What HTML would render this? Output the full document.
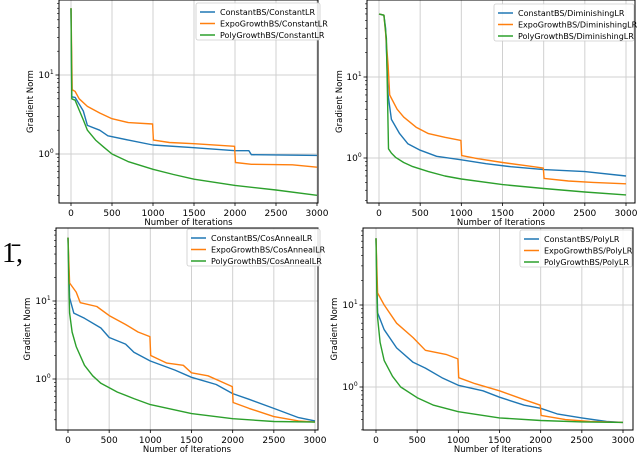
<!DOCTYPE html>
<html><head><meta charset="utf-8"><style>
body{margin:0;background:#fff;}
svg{display:block;font-family:"DejaVu Sans","Liberation Sans",sans-serif;}
</style></head><body>
<svg id="s" width="640" height="453" viewBox="0 0 640 453">
<text x="2" y="262" font-family="Liberation Serif,serif" font-size="28" fill="#000">1̄,</text>
</svg>
<script>
const xTicks=[0,500,1000,1500,2000,2500,3000];
const labels=[["ConstantBS/ConstantLR","ExpoGrowthBS/ConstantLR","PolyGrowthBS/ConstantLR"],
["ConstantBS/DiminishingLR","ExpoGrowthBS/DiminishingLR","PolyGrowthBS/DiminishingLR"],
["ConstantBS/CosAnnealLR","ExpoGrowthBS/CosAnnealLR","PolyGrowthBS/CosAnnealLR"],
["ConstantBS/PolyLR","ExpoGrowthBS/PolyLR","PolyGrowthBS/PolyLR"]];
// panel 1
const p1cX=[0,10,50,150,200,350,450,700,1000,1500,2000,2170,2200,3000];
const p1cY=[70,5.3,5.2,3.5,2.3,2.0,1.7,1.5,1.3,1.2,1.1,1.1,0.98,0.96];
const p1eX=[0,15,50,100,200,350,500,700,995,1005,1200,1500,1995,2005,2200,2700,3000];
const p1eY=[70,6.5,6.2,5,4,3.3,2.8,2.5,2.4,1.5,1.4,1.35,1.25,0.78,0.74,0.73,0.68];
const p1pX=[0,10,50,100,150,200,300,400,500,700,1000,1250,1500,2000,2500,3000];
const p1pY=[70,5,4.8,3.6,2.7,2.0,1.5,1.22,1.0,0.8,0.64,0.55,0.48,0.40,0.35,0.30];
// panel 2
const p2cX=[0,60,80,110,150,250,350,500,700,1000,1300,1600,2000,2500,3000];
const p2cY=[60,58,40,6,3,2,1.5,1.25,1.05,0.95,0.85,0.78,0.72,0.68,0.6];
const p2eX=[0,60,80,110,130,220,300,450,600,800,995,1005,1200,1500,1800,1995,2005,2300,2600,3000];
const p2eY=[60,58,35,14,6,4,3.2,2.4,2.0,1.8,1.65,1.07,0.98,0.88,0.8,0.75,0.56,0.52,0.5,0.48];
const p2pX=[0,60,90,105,115,150,200,300,400,600,800,1000,1500,2000,2500,3000];
const p2pY=[60,58,30,5,1.3,1.15,1.02,0.88,0.79,0.68,0.6,0.55,0.47,0.42,0.38,0.35];
// panel 3
const p3cX=[0,20,70,200,400,500,700,800,1000,1300,1500,1800,2000,2200,2500,2800,3000];
const p3cY=[65,11,7,6,4.5,3.4,2.8,2.2,1.7,1.3,1.05,0.85,0.65,0.55,0.42,0.32,0.29];
const p3eX=[0,20,100,150,350,500,700,850,995,1005,1200,1400,1500,1700,1995,2005,2200,2500,2800,3000];
const p3eY=[65,17,13,9.5,8.5,6.5,5,4,3.5,2,1.6,1.5,1.2,1.1,0.8,0.5,0.42,0.33,0.29,0.28];
const p3pX=[0,10,20,50,100,200,300,400,600,800,1000,1500,2000,2500,3000];
const p3pY=[65,18,7,4,2.6,1.5,1.1,0.88,0.68,0.56,0.47,0.36,0.31,0.285,0.28];
// panel 4
const p4cX=[0,20,100,250,450,600,800,1000,1300,1500,1800,2000,2200,2500,2800,3000];
const p4cY=[65,8,5,3,2,1.7,1.3,1.05,0.9,0.75,0.6,0.55,0.47,0.42,0.38,0.37];
const p4eX=[0,20,100,250,450,600,850,995,1005,1200,1500,1800,1995,2005,2300,2600,3000];
const p4eY=[65,14,10,6,4,2.8,2.5,2.2,1.3,1.1,0.9,0.7,0.6,0.45,0.4,0.38,0.37];
const p4pX=[0,10,20,50,100,200,300,500,700,1000,1500,2000,2500,3000];
const p4pY=[65,15,7,3.5,2.1,1.35,1.0,0.74,0.6,0.5,0.42,0.39,0.375,0.37];

const series=[[[p1cX,p1cY],[p1eX,p1eY],[p1pX,p1pY]],[[p2cX,p2cY],[p2eX,p2eY],[p2pX,p2pY]],
[[p3cX,p3cY],[p3eX,p3eY],[p3pX,p3pY]],[[p4cX,p4cY],[p4eX,p4eY],[p4pX,p4pY]]];
const panels=[
{L:59,R:318,T:0,B:203,x0:71,x1:317,y1:75,y0:154,lx:196,ly:3,lw:124,yl:33},
{L:367,R:635,T:0,B:203,x0:379,x1:626,y1:77,y0:158,lx:494,ly:4,lw:140,yl:342},
{L:56,R:318,T:228,B:430,x0:68,x1:315,y1:301,y0:379,lx:187,ly:229,lw:133,yl:30},
{L:363,R:633,T:228,B:430,x0:376,x1:623,y1:305,y0:387,lx:520,ly:230,lw:112,yl:337}];
const colors=["#1f77b4","#ff7f0e","#2ca02c"];
const svg=document.getElementById('s');
const NS="http://www.w3.org/2000/svg";
function mk(tag,a,parent){const e=document.createElementNS(NS,tag);for(const k in a)e.setAttribute(k,a[k]);(parent||svg).appendChild(e);return e;}
panels.forEach((p,i)=>{
  const g=mk('g',{});
  
  
  const sx=v=>p.x0+(p.x1-p.x0)*v/3000;
  const dec=p.y0-p.y1;
  const sy=v=>p.y0-dec*Math.log10(v);
  xTicks.forEach(t=>{
    const gl=mk('line',{x1:sx(t),x2:sx(t),y1:p.T,y2:p.B,stroke:"#d0d0d0","stroke-width":1},g);
    
    
    const tk=mk('line',{x1:sx(t),x2:sx(t),y1:p.B,y2:p.B+3,stroke:"#000","stroke-width":0.8},g);
    
    
    const tl=mk('text',{x:sx(t),y:p.B+13,"font-size":9,"text-anchor":"middle",fill:"#000"},g);
    tl.textContent=t;
    
    
  });
  [0,1].forEach(d=>{
    const y=sy(Math.pow(10,d));
    const gl=mk('line',{x1:p.L,x2:p.R,y1:y,y2:y,stroke:"#d0d0d0","stroke-width":1},g);
    
    
    mk('line',{x1:p.L-3.5,x2:p.L,y1:y,y2:y,stroke:"#000","stroke-width":0.8},g);
    const tl=mk('text',{x:p.L-13,y:y+3,"font-size":9,"text-anchor":"middle",fill:"#000"},g);
    tl.innerHTML='10<tspan dy="-4" font-size="6">'+d+'</tspan>';
    
    
  });
  for(let d=-1;d<2;d++)for(let m=2;m<10;m++){
    const y=sy(m*Math.pow(10,d));
    if(y>p.T&&y<p.B)mk('line',{x1:p.L-2,x2:p.L,y1:y,y2:y,stroke:"#000","stroke-width":0.6},g);
  }
  series[i].forEach((s,k)=>{
    const pts=s[0].map((x,j)=>sx(x).toFixed(1)+","+sy(s[1][j]).toFixed(1)).join(" ");
    const pl=mk('polyline',{points:pts,fill:"none",stroke:colors[k],"stroke-width":1.4,"stroke-linejoin":"round"},g);
    
    
  });
  const fr=mk('rect',{x:p.L,y:p.T,width:p.R-p.L,height:p.B-p.T,fill:"none",stroke:"#000","stroke-width":1},g);
  
  
  const xl=mk('text',{x:(p.L+p.R)/2,y:p.B+22,"font-size":8.5,"text-anchor":"middle"},g);
  xl.textContent="Number of Iterations";
  
  
  const cy=(p.T+p.B)/2;
  const yl=mk('text',{x:p.yl,y:cy,"font-size":8.5,"text-anchor":"middle",transform:`rotate(-90 ${p.yl} ${cy})`},g);
  yl.textContent="Gradient Norm";
  
  
  const lg=mk('g',{},g);
  
  
  mk('rect',{x:p.lx,y:p.ly,width:p.lw,height:37,fill:"#fff","fill-opacity":0.85,stroke:"#ccc","stroke-width":0.8,rx:2},lg);
  labels[i].forEach((t,k)=>{
    const yy=p.ly+9+k*11.5;
    mk('line',{x1:p.lx+4,x2:p.lx+19,y1:yy,y2:yy,stroke:colors[k],"stroke-width":1.5},lg);
    const tx=mk('text',{x:p.lx+24,y:yy+3,"font-size":8,fill:"#000"},lg);
    tx.textContent=t;
    
    
  });
});
</script>
</body></html>
